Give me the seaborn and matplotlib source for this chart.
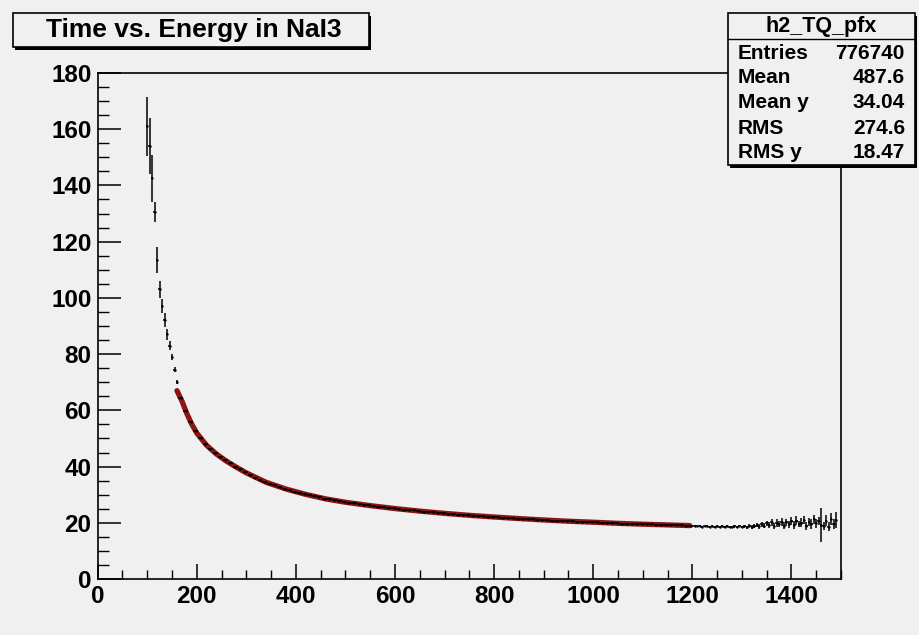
import numpy as np
import pandas as pd
import matplotlib
matplotlib.use("Agg")
import matplotlib.pyplot as plt
from matplotlib.patches import Rectangle
from matplotlib.lines import Line2D
from matplotlib.ticker import MultipleLocator
import seaborn as sns

# ---------------- data ----------------
# low-energy profile bins (width 5)
low_energy = [100, 105, 110, 115, 120, 125, 130, 135, 140, 145, 150, 155, 160]
low_time = [161.0, 154.0, 142.5, 130.5, 113.5, 103.0, 97.0, 92.0, 87.0, 83.0, 79.0, 74.5, 70.0]
low_err = [10.5, 10.0, 8.5, 3.5, 4.5, 3.0, 2.5, 2.5, 2.0, 1.5, 1.2, 1.0, 0.8]

# middle profile bins (width 10, first centre 167.5)
mid_start, mid_width = 167.5, 10.0
mid_time = [64.5, 59.8, 55.8, 52.6, 50.0, 47.9, 46.2, 44.7, 43.4, 42.2,
            41.1, 40.0, 39.0, 38.0, 37.0, 36.1, 35.3, 34.6, 33.9, 33.3,
            32.7, 32.1, 31.6, 31.1, 30.6, 30.2, 29.8, 29.4, 29.0, 28.6,
            28.3, 28.0, 27.7, 27.4, 27.1, 26.9, 26.6, 26.4, 26.2, 25.9,
            25.7, 25.5, 25.3, 25.1, 24.9, 24.7, 24.5, 24.4, 24.2, 24.0,
            23.9, 23.7, 23.5, 23.4, 23.2, 23.1, 22.9, 22.8, 22.7, 22.5,
            22.4, 22.3, 22.2, 22.1, 22.0, 21.8, 21.7, 21.6, 21.5, 21.4,
            21.3, 21.2, 21.1, 21.0, 20.9, 20.8, 20.7, 20.6, 20.5, 20.5,
            20.4, 20.3, 20.2, 20.2, 20.1, 20.0, 19.9, 19.9, 19.8, 19.7,
            19.7, 19.6, 19.5, 19.5, 19.4, 19.4, 19.3, 19.3, 19.2, 19.2,
            19.1, 19.1, 19.0, 19.0]
mid_err = 0.25

# high-energy profile bins (width 5, first centre 1205)
tail_start, tail_width = 1205.0, 5.0
tail_time = [18.8, 18.7, 18.8, 18.6, 18.7, 18.7, 18.6, 18.8, 18.5,
             18.7, 18.6, 18.7, 18.5, 18.8, 18.6, 18.4, 18.7, 18.6, 18.9,
             18.5, 18.7, 18.4, 19.0, 18.6, 18.9, 19.2, 18.7, 19.5, 18.9,
             19.8, 19.3, 20.1, 18.8, 19.9, 19.6, 20.4, 19.0, 20.2, 19.4,
             20.6, 19.2, 20.8, 19.6, 20.0, 21.0, 18.9, 20.3, 19.5, 21.2,
             19.8, 20.6, 19.3, 18.8, 20.8, 18.6, 21.4, 19.6, 21.0]
tail_err = [0.3, 0.3, 0.3, 0.3, 0.3, 0.3, 0.3, 0.3, 0.3,
            0.35, 0.35, 0.35, 0.35, 0.35, 0.4, 0.4, 0.4, 0.4, 0.45,
            0.5, 0.5, 0.6, 0.6, 0.7, 0.7, 0.8, 0.8, 0.9, 0.9,
            1.0, 1.1, 1.2, 1.0, 1.3, 1.1, 1.4, 1.2, 1.3, 1.2,
            1.4, 1.3, 1.5, 1.2, 1.6, 1.4, 1.5, 1.3, 1.7, 1.5,
            1.6, 1.5, 6.0, 1.5, 2.0, 1.7, 2.2, 1.8, 3.0]

# fitted curve
fit_energy = [160, 170, 180, 190, 200, 220, 240, 260, 280, 300, 340, 380, 420, 460,
              500, 550, 600, 650, 700, 750, 800, 850, 900, 950, 1000, 1050, 1100, 1150, 1195]
fit_time = [67.0, 63.3, 58.8, 55.0, 51.9, 47.5, 44.4, 41.9, 39.75, 37.75, 34.4, 32.0, 30.1, 28.5,
            27.3, 26.1, 25.05, 24.15, 23.35, 22.65, 22.05, 21.5, 21.0, 20.55, 20.2, 19.8, 19.5, 19.25, 19.0]

title_text = "Time vs. Energy in NaI3"
stats_name = "h2_TQ_pfx"
stats_labels = ["Entries", "Mean", "Mean y", "RMS", "RMS y"]
stats_values = ["776740", "487.6", "34.04", "274.6", "18.47"]

x_range = (0, 1500)
y_range = (0, 180)

# ---------------- assemble profile table ----------------
mid_energy = mid_start + mid_width * np.arange(len(mid_time))
tail_energy = tail_start + tail_width * np.arange(len(tail_time))
prof = pd.DataFrame({
    "E": np.concatenate([np.asarray(low_energy, float), mid_energy, tail_energy]),
    "t": np.concatenate([low_time, mid_time, tail_time]),
    "err": np.concatenate([low_err, np.full(len(mid_time), mid_err), tail_err]),
    "half": np.concatenate([np.full(len(low_time), 2.5), np.full(len(mid_time), mid_width / 2),
                            np.full(len(tail_time), tail_width / 2)]),
})
fit_df = pd.DataFrame({"E": fit_energy, "t": fit_time})

# ---------------- style ----------------
sns.set_style("ticks")
plt.rcParams['font.family'] = ['Liberation Sans', 'DejaVu Sans']
plt.rcParams['font.weight'] = 'bold'
plt.rcParams['text.color'] = 'black'
plt.rcParams['xtick.color'] = 'black'
plt.rcParams['ytick.color'] = 'black'
plt.rcParams['axes.labelcolor'] = 'black'

BG = '#f0f0f0'
W, H = 920, 635
def fx(px):
    return px / W
def fy(py):
    return 1 - py / H

fig = plt.figure(figsize=(9.2, 6.35), dpi=100, facecolor=BG)
ax = fig.add_axes([fx(97.7), fy(579), (841 - 97.7) / W, (579 - 73) / H])
ax.set_facecolor(BG)

sns.lineplot(data=fit_df, x="E", y="t", ax=ax, color='#8e1414', lw=3.8, zorder=2, sort=True)
ax.errorbar(prof["E"], prof["t"], xerr=prof["half"], yerr=prof["err"], fmt='none',
            ecolor='black', elinewidth=1.1, capsize=0, zorder=3)
sns.scatterplot(data=prof, x="E", y="t", ax=ax, s=3, color='black', linewidth=0, zorder=4)

ax.set_xlim(*x_range)
ax.set_ylim(*y_range)
ax.set_xlabel("")
ax.set_ylabel("")

ax.xaxis.set_major_locator(MultipleLocator(200))
ax.xaxis.set_minor_locator(MultipleLocator(50))
ax.yaxis.set_major_locator(MultipleLocator(20))
ax.yaxis.set_minor_locator(MultipleLocator(5))
ax.tick_params(axis='x', which='major', direction='in', length=10.8, width=1.1,
               labelsize=17.5, pad=4.5, top=False, colors='black')
ax.tick_params(axis='x', which='minor', direction='in', length=6.5, width=1.0, top=False)
ax.tick_params(axis='y', which='major', direction='in', length=16.5, width=1.1,
               labelsize=17.5, pad=4.5, right=False, colors='black')
ax.tick_params(axis='y', which='minor', direction='in', length=8, width=1.0, right=False)
for lab in ax.get_xticklabels() + ax.get_yticklabels():
    lab.set_fontweight('bold')
for sp in ax.spines.values():
    sp.set_visible(True)
    sp.set_color('black')
    sp.set_linewidth(1.2)

# ---------------- title box ----------------
fig.patches.append(Rectangle((fx(15), fy(49.5)), 356 / W, 34 / H, transform=fig.transFigure,
                             facecolor='black', edgecolor='none', zorder=1))
fig.patches.append(Rectangle((fx(13), fy(47)), 356 / W, 34 / H, transform=fig.transFigure,
                             facecolor=BG, edgecolor='black', lw=1.2, zorder=1.1))
fig.text(fx(194), fy(37), title_text, ha='center', va='baseline', fontsize=19,
         fontweight='bold', color='black', zorder=3)

# ---------------- stats box ----------------
bx0, bx1, by0, by1 = 728, 915, 13, 165
fig.patches.append(Rectangle((fx(bx0 + 2), fy(by1 + 2.5)), (bx1 - bx0) / W, (by1 - by0) / H,
                             transform=fig.transFigure, facecolor='black', edgecolor='none', zorder=1))
fig.patches.append(Rectangle((fx(bx0), fy(by1)), (bx1 - bx0) / W, (by1 - by0) / H,
                             transform=fig.transFigure, facecolor=BG, edgecolor='black', lw=1.2, zorder=1.1))
fig.lines.append(Line2D([fx(bx0), fx(bx1)], [fy(39), fy(39)], transform=fig.transFigure,
                        color='black', lw=1.0, zorder=1.2))
fig.text(fx(821), fy(32), stats_name, ha='center', va='baseline', fontsize=15.5,
         fontweight='bold', color='black')
row_base = [59, 83, 108, 134, 158]
for lab, val, yb in zip(stats_labels, stats_values, row_base):
    fig.text(fx(738), fy(yb), lab, ha='left', va='baseline', fontsize=15,
             fontweight='bold', color='black')
    fig.text(fx(905), fy(yb), val, ha='right', va='baseline', fontsize=15,
             fontweight='bold', color='black')

fig.savefig("out.png", dpi=100, facecolor=BG)
